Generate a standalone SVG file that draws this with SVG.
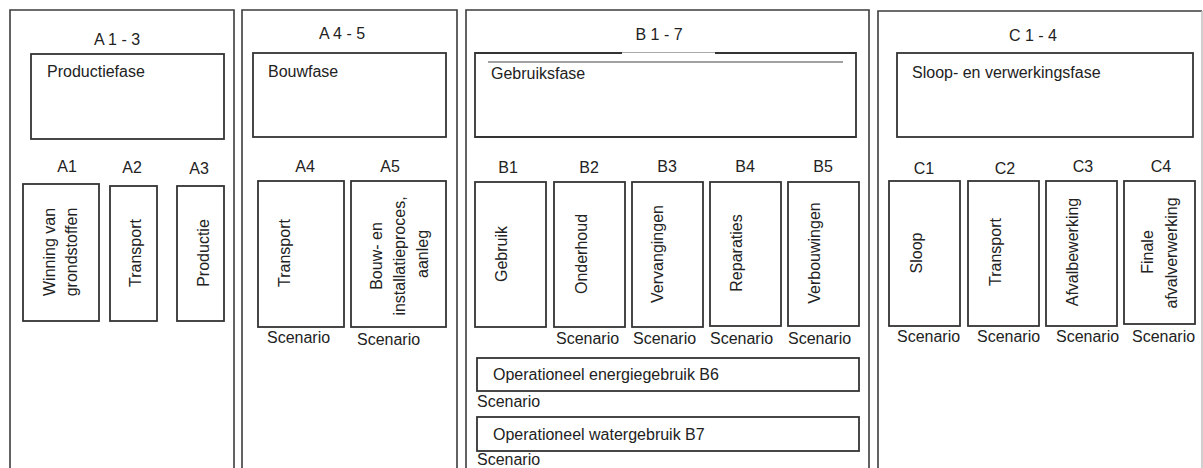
<svg xmlns="http://www.w3.org/2000/svg" width="1203" height="468" viewBox="0 0 1203 468">
<style>
.sec{fill:none;stroke:#3c3c3c;stroke-width:1.6}
.box{fill:none;stroke:#333;stroke-width:1.8}
text{font-family:"Liberation Sans",Arial,sans-serif;font-size:16px;fill:#222}
.c{text-anchor:middle}
</style>
<rect width="1203" height="468" fill="#fff"/>
<g id="sectionA13">
<path class="sec" d="M10,470 V10 H234 V470"/>
<text class="c" x="117" y="45">A 1 - 3</text>
<rect class="box" x="31" y="54" width="193" height="85"/>
<text x="47" y="77">Productiefase</text>
</g>
<g id="A1">
<text class="c" x="67" y="172">A1</text>
<rect class="box" x="23" y="184" width="76" height="137"/>
<text class="c" transform="translate(55,252) rotate(-90)">Winning van</text>
<text class="c" transform="translate(77,252) rotate(-90)">grondstoffen</text>
</g>
<g id="A2">
<text class="c" x="132" y="173">A2</text>
<rect class="box" x="110" y="186" width="47" height="135"/>
<text class="c" transform="translate(141,253) rotate(-90)">Transport</text>
</g>
<g id="A3">
<text class="c" x="199" y="174">A3</text>
<rect class="box" x="177" y="186" width="47" height="135"/>
<text class="c" transform="translate(209,253) rotate(-90)">Productie</text>
</g>
<g id="sectionA45">
<path class="sec" d="M242,470 V10 H457 V470"/>
<text class="c" x="342" y="39">A 4 - 5</text>
<rect class="box" x="253" y="53" width="193" height="84"/>
<text x="268" y="77">Bouwfase</text>
</g>
<g id="A4">
<text class="c" x="305" y="172">A4</text>
<rect class="box" x="258" y="181" width="86" height="146"/>
<text class="c" transform="translate(290,253) rotate(-90)">Transport</text>
<text x="267" y="343">Scenario</text>
</g>
<g id="A5">
<text class="c" x="390" y="172">A5</text>
<rect class="box" x="351" y="181" width="95" height="146"/>
<text class="c" transform="translate(382,256) rotate(-90)">Bouw- en</text>
<text class="c" transform="translate(405,256) rotate(-90)">installatieproces,</text>
<text class="c" transform="translate(428,254) rotate(-90)">aanleg</text>
<text x="357" y="345">Scenario</text>
</g>
<g id="sectionB17">
<path class="sec" d="M466,470 V10 H869 V470"/>
<text class="c" x="659" y="40">B 1 - 7</text>
<path class="box" d="M622,53 H475 V137 H856 V53 H715"/>
<line x1="622" y1="52.5" x2="715" y2="52.5" stroke="#aaa" stroke-width="1"/>
<line x1="488" y1="62" x2="843" y2="62" stroke="#444" stroke-width="1.2"/>
<text x="491" y="79">Gebruiksfase</text>
</g>
<g id="B1">
<text class="c" x="508" y="173">B1</text>
<rect class="box" x="475" y="182" width="71" height="145"/>
<text class="c" transform="translate(507,254) rotate(-90)">Gebruik</text>
</g>
<g id="B2">
<text class="c" x="589" y="173">B2</text>
<rect class="box" x="554" y="182" width="71" height="145"/>
<text class="c" transform="translate(587,254) rotate(-90)">Onderhoud</text>
<text x="556" y="344">Scenario</text>
</g>
<g id="B3">
<text class="c" x="667" y="172">B3</text>
<rect class="box" x="632" y="182" width="71" height="145"/>
<text class="c" transform="translate(663,254) rotate(-90)">Vervangingen</text>
<text x="633" y="344">Scenario</text>
</g>
<g id="B4">
<text class="c" x="745" y="172">B4</text>
<rect class="box" x="710" y="182" width="71" height="144"/>
<text class="c" transform="translate(742,253) rotate(-90)">Reparaties</text>
<text x="710" y="344">Scenario</text>
</g>
<g id="B5">
<text class="c" x="823" y="172">B5</text>
<rect class="box" x="788" y="182" width="71" height="144"/>
<text class="c" transform="translate(820,253) rotate(-90)">Verbouwingen</text>
<text x="788" y="344">Scenario</text>
</g>
<g id="B6">
<rect class="box" x="477" y="358" width="382" height="33"/>
<text x="493" y="380">Operationeel energiegebruik B6</text>
<text x="477" y="407">Scenario</text>
</g>
<g id="B7">
<rect class="box" x="477" y="417" width="382" height="34"/>
<text x="493" y="440">Operationeel watergebruik B7</text>
<text x="477" y="465">Scenario</text>
</g>
<g id="sectionC14">
<path class="sec" d="M878,470 V11 H1202"/>
<line x1="1202" y1="11" x2="1202" y2="470" stroke="#bbb" stroke-width="1.4"/>
<text class="c" x="1033" y="41">C 1 - 4</text>
<rect class="box" x="897" y="53" width="296" height="84"/>
<text x="912" y="78">Sloop- en verwerkingsfase</text>
</g>
<g id="C1">
<text class="c" x="924" y="174">C1</text>
<rect class="box" x="889" y="181" width="71" height="145"/>
<text class="c" transform="translate(922,253) rotate(-90)">Sloop</text>
<text x="897" y="342">Scenario</text>
</g>
<g id="C2">
<text class="c" x="1005" y="174">C2</text>
<rect class="box" x="968" y="181" width="71" height="145"/>
<text class="c" transform="translate(1001,252) rotate(-90)">Transport</text>
<text x="977" y="342">Scenario</text>
</g>
<g id="C3">
<text class="c" x="1083" y="172">C3</text>
<rect class="box" x="1046" y="181" width="71" height="145"/>
<text class="c" transform="translate(1078,252) rotate(-90)">Afvalbewerking</text>
<text x="1056" y="342">Scenario</text>
</g>
<g id="C4">
<text class="c" x="1161" y="172">C4</text>
<rect class="box" x="1124" y="181" width="71" height="143"/>
<text class="c" transform="translate(1153,252) rotate(-90)">Finale</text>
<text class="c" transform="translate(1177,253) rotate(-90)">afvalverwerking</text>
<text x="1132" y="342">Scenario</text>
</g>
<g id="connectors"></g>
</svg>
